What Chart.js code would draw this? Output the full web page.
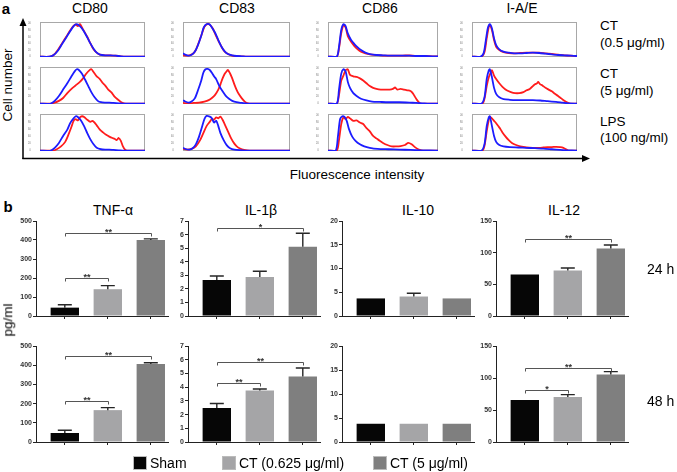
<!DOCTYPE html>
<html><head><meta charset="utf-8">
<script src="https://cdn.jsdelivr.net/npm/chart.js@4.4.1/dist/chart.umd.min.js"></script>
<style>
html,body{margin:0;padding:0;background:#fff}
body{width:677px;height:472px;position:relative;overflow:hidden;font-family:"Liberation Sans",Arial,sans-serif;color:#000}
.t{position:absolute;white-space:nowrap;line-height:1}
.box{position:absolute}
canvas{display:block}
</style></head><body>
<svg style="position:absolute;left:0;top:0" width="677" height="472">
  <line x1="23" y1="159" x2="23" y2="25" stroke="#000" stroke-width="1.5"/>
  <polygon points="23,18 19.5,26 26.5,26" fill="#000"/>
  <line x1="22.3" y1="158.5" x2="583" y2="158.5" stroke="#000" stroke-width="1.5"/>
  <polygon points="590,158.5 582,155 582,162" fill="#000"/>
</svg>
<script>
// ---------------- DATA ----------------
const markers = ['CD80', 'CD83', 'CD86', 'I-A/E'];
const treatments = [['CT', '(0.5 μg/ml)'], ['CT', '(5 μg/ml)'], ['LPS', '(100 ng/ml)']];
const histXTicks = [11, 22, 48, 73, 97];
const histXLabels = ['0', '10²', '10³', '10⁴', '10⁵'];
const histYTicks = [0, 20, 40, 60, 80, 100];

// Histograms: [fluorescence position (% of axis), cell number (% of max)]
const cd80R1Blue = [[0,0],[9,0],[13,5],[17,18],[21,38],[25,58],[29,78],[32,92],[35,98],[38,92],[41,80],[45,58],[48,40],[51,24],[54,12],[57,6],[62,4],[67,4],[72,3],[77,1],[82,0],[100,0]];
const cd80R1Red  = [[0,0],[9,0],[13,5],[17,20],[21,40],[25,60],[29,80],[32,93],[34,97],[36,92],[38,98],[41,82],[45,60],[48,40],[51,22],[54,12],[57,6],[62,4],[67,4],[72,3],[77,1],[82,0],[100,0]];
const cd80R2Blue = [[0,0],[10,0],[14,8],[18,22],[22,40],[26,58],[30,78],[33,92],[35,98],[37,96],[40,85],[43,68],[46,50],[49,32],[52,18],[55,8],[58,4],[62,3],[66,3],[70,2],[75,1],[80,0],[100,0]];
const cd80R2Red  = [[0,0],[10,0],[14,3],[18,8],[22,16],[26,30],[30,42],[34,52],[38,62],[41,72],[44,85],[47,95],[49,98],[51,90],[54,78],[57,70],[60,58],[62,52],[65,40],[68,32],[71,20],[74,12],[77,5],[80,1],[84,0],[100,0]];
const cd80R3Blue = [[0,0],[10,0],[14,8],[18,22],[22,42],[26,60],[29,80],[32,92],[34,98],[36,96],[39,86],[42,70],[45,50],[48,32],[51,18],[54,8],[58,4],[62,3],[66,3],[70,2],[75,1],[80,0],[100,0]];
const cd80R3Red  = [[0,0],[12,0],[16,4],[20,12],[24,25],[27,45],[30,68],[32,85],[34,90],[36,86],[38,95],[40,98],[42,96],[45,88],[48,82],[50,85],[52,80],[54,72],[57,60],[60,52],[63,45],[66,40],[69,36],[71,34],[73,30],[75,36],[77,28],[79,12],[81,3],[83,0],[100,0]];

const cd83R1Blue = [[0,10],[2,6],[5,3],[8,6],[11,15],[14,35],[17,62],[19,85],[21,96],[23,99],[25,97],[27,88],[30,72],[33,50],[36,30],[39,16],[42,8],[46,4],[50,2],[55,1],[60,0],[100,0]];
const cd83R1Red  = [[0,4],[3,3],[6,4],[9,8],[12,20],[15,45],[18,72],[20,90],[22,97],[24,99],[26,93],[28,84],[31,62],[34,42],[37,24],[40,12],[44,5],[48,2],[54,1],[60,0],[100,0]];
const cd83R2Blue = [[0,10],[2,6],[5,3],[8,6],[11,15],[14,38],[17,65],[19,88],[21,98],[23,99],[25,96],[27,88],[29,78],[31,70],[34,50],[37,35],[40,22],[43,14],[46,8],[50,4],[55,2],[60,0],[100,0]];
const cd83R2Red  = [[0,2],[5,1],[10,2],[15,3],[20,6],[24,10],[27,16],[30,25],[33,40],[35,55],[37,72],[39,85],[41,93],[42,96],[44,86],[46,72],[48,55],[50,40],[52,28],[55,15],[58,5],[61,1],[64,0],[100,0]];
const cd83R3Blue = [[0,8],[3,4],[6,3],[9,7],[12,18],[15,40],[18,70],[20,90],[22,99],[25,97],[27,92],[29,80],[31,85],[33,70],[35,50],[38,30],[41,15],[44,7],[48,3],[55,1],[60,0],[100,0]];
const cd83R3Red  = [[0,5],[4,3],[8,5],[12,12],[16,30],[19,50],[22,70],[25,82],[27,90],[29,88],[31,95],[33,92],[35,97],[37,88],[39,75],[42,55],[45,35],[48,20],[51,10],[55,4],[60,1],[65,0],[100,0]];

const cd86R1Blue = [[0,0],[8,0],[10,30],[12,80],[14,98],[16,92],[18,70],[21,50],[24,38],[27,28],[30,20],[34,12],[38,8],[44,5],[50,4],[56,3],[62,3],[68,3],[74,3],[80,2],[88,2],[95,1],[100,1]];
const cd86R1Red  = [[0,0],[8,0],[10,25],[12,70],[14,95],[16,88],[18,62],[21,45],[24,32],[27,22],[30,15],[34,10],[38,7],[44,5],[50,3],[56,3],[62,3],[68,3],[74,4],[80,2],[88,2],[95,1],[100,1]];
const cd86R2Blue = [[0,0],[8,0],[10,40],[12,85],[14,98],[16,92],[18,62],[20,45],[23,30],[26,22],[30,14],[35,9],[40,6],[47,5],[55,4],[65,4],[74,3],[80,2],[86,1],[92,0],[100,0]];
const cd86R2Red  = [[0,0],[8,0],[10,25],[12,65],[14,80],[16,95],[18,98],[20,82],[23,78],[26,76],[29,72],[32,66],[35,58],[38,50],[41,45],[44,42],[48,40],[52,40],[56,40],[59,42],[61,46],[63,40],[66,42],[69,40],[72,38],[75,36],[77,30],[79,20],[81,10],[83,3],[85,0],[100,0]];
const cd86R3Blue = [[0,0],[7,0],[9,40],[11,90],[13,98],[15,96],[17,85],[19,62],[22,40],[25,28],[29,18],[33,12],[38,8],[45,5],[55,4],[65,3],[75,2],[85,1],[100,0]];
const cd86R3Red  = [[0,0],[8,0],[10,30],[12,75],[14,95],[16,90],[18,96],[20,92],[23,85],[26,86],[29,80],[32,76],[35,64],[38,55],[41,42],[44,35],[47,28],[50,22],[54,16],[58,12],[62,12],[66,13],[70,16],[73,22],[76,18],[79,10],[82,4],[85,1],[88,0],[100,0]];

const iaeR1Blue = [[0,0],[8,0],[11,10],[13,45],[15,85],[17,98],[19,85],[21,55],[23,35],[26,22],[30,15],[35,12],[40,10],[46,10],[52,11],[58,12],[64,11],[70,9],[76,7],[82,5],[88,4],[94,3],[100,2]];
const iaeR1Red  = [[0,0],[9,0],[12,15],[14,55],[16,90],[17,95],[19,80],[21,50],[23,30],[26,20],[30,14],[35,11],[40,10],[46,11],[52,12],[58,12],[64,12],[70,10],[76,8],[82,6],[88,4],[94,3],[100,2]];
const iaeR2Blue = [[0,0],[9,0],[12,20],[14,70],[16,95],[17,98],[19,75],[21,45],[23,28],[26,18],[30,13],[36,11],[42,10],[50,10],[58,10],[65,9],[72,7],[80,5],[86,3],[92,1],[100,0]];
const iaeR2Red  = [[0,0],[10,0],[12,15],[14,50],[16,75],[18,90],[19,95],[21,80],[23,70],[26,58],[29,48],[33,38],[37,33],[41,30],[45,30],[49,33],[52,38],[55,42],[58,50],[60,55],[62,58],[63,62],[65,55],[67,52],[70,45],[73,40],[76,35],[79,28],[82,22],[85,15],[88,8],[91,3],[94,0],[100,0]];
const iaeR3Blue = [[0,0],[9,0],[12,20],[14,70],[16,95],[17,98],[19,70],[21,42],[23,25],[26,16],[30,12],[36,10],[44,9],[52,8],[60,7],[68,6],[76,4],[84,2],[90,1],[100,0]];
const iaeR3Red  = [[0,0],[10,0],[12,15],[14,55],[16,88],[17,97],[19,92],[21,85],[23,78],[25,70],[27,62],[29,52],[32,40],[35,30],[38,22],[42,16],[46,12],[52,9],[58,8],[64,8],[68,9],[72,10],[76,10],[80,11],[84,10],[87,8],[90,3],[92,0],[100,0]];

// Bar charts (pg/ml, mean and SEM)
const groups = ['Sham', 'CT (0.625 μg/ml)', 'CT (5 μg/ml)'];
const cytokines = ['TNF-α', 'IL-1β', 'IL-10', 'IL-12'];
const timepoints = ['24 h', '48 h'];
const yMaxes = [500, 7, 20, 150];
const ySteps = [100, 1, 5, 50];

const tnf24 = [44, 141, 400],      tnf24Err = [15, 19, 6];
const il1b24 = [2.65, 2.87, 5.1],  il1b24Err = [0.3, 0.43, 1.0];
const il10_24 = [3.7, 4.1, 3.7],   il10_24Err = [0, 0.7, 0];
const il12_24 = [65.5, 71.8, 106.5], il12_24Err = [0, 4, 5.5];
const tnf48 = [47, 166, 406],      tnf48Err = [14, 13, 7];
const il1b48 = [2.48, 3.75, 4.78], il1b48Err = [0.33, 0.12, 0.62];
const il10_48 = [3.8, 3.8, 3.8],   il10_48Err = [0, 0, 0];
const il12_48 = [65.5, 70.5, 105.5], il12_48Err = [0, 3.5, 4.5];

// significance brackets: [group a, group b, bracket level, label]
const tnf24Sig = [[0, 1, 199, '**'], [0, 2, 437, '**']];
const il1b24Sig = [[0, 2, 6.45, '*']];
const il10_24Sig = [];
const il12_24Sig = [[0, 2, 122, '**']];
const tnf48Sig = [[0, 1, 211, '**'], [0, 2, 446, '**']];
const il1b48Sig = [[0, 1, 4.33, '**'], [0, 2, 5.8, '**']];
const il10_48Sig = [];
const il12_48Sig = [[0, 1, 81, '*'], [0, 2, 116, '**']];

// ---------------- STYLE / LAYOUT ----------------
const FONT = '"Liberation Sans", Arial, sans-serif';
const groupColors = ['#060606', '#a5a5a7', '#7f7f7f'];
const BLUE = '#1c1cff', RED = '#ff1c1c';

function text(str, x, y, opt = {}) {
  const d = document.createElement('div');
  d.className = 't';
  d.textContent = str;
  d.style.left = x + 'px';
  d.style.top = y + 'px';
  d.style.fontSize = (opt.size || 13.5) + 'px';
  if (opt.bold) d.style.fontWeight = 'bold';
  let tf = opt.left ? 'translate(0,-50%)' : 'translate(-50%,-50%)';
  if (opt.rot) tf += ' rotate(' + opt.rot + 'deg)';
  d.style.transform = tf;
  document.body.appendChild(d);
}
function canvasAt(left, top, w, h) {
  const wrap = document.createElement('div');
  wrap.className = 'box';
  wrap.style.left = left + 'px'; wrap.style.top = top + 'px';
  wrap.style.width = w + 'px'; wrap.style.height = h + 'px';
  const c = document.createElement('canvas');
  c.width = w; c.height = h;
  wrap.appendChild(c);
  document.body.appendChild(wrap);
  return c;
}
const pts = a => a.map(p => ({x: p[0], y: p[1]}));

const framePlugin = {
  id: 'frame',
  beforeDatasetsDraw(chart) {
    const {ctx, chartArea: a} = chart;
    ctx.save(); ctx.strokeStyle = '#a8a8a8'; ctx.lineWidth = 1;
    ctx.strokeRect(Math.round(a.left) + 0.5, Math.round(a.top) + 0.5, Math.round(a.right - a.left) - 1, Math.round(a.bottom - a.top) - 1);
    ctx.restore();
  }
};

function hist(areaL, areaT, w, h, blue, red) {
  const padL = 12, padT = 2, padB = 6, padR = 2;
  const c = canvasAt(areaL - padL, areaT - padT, w + padL + padR, h + padT + padB);
  new Chart(c, {
    type: 'line',
    data: { datasets: [
      { data: pts(blue), borderColor: BLUE, borderWidth: 1.8, pointRadius: 0, tension: 0.25 },
      { data: pts(red), borderColor: RED, borderWidth: 1.8, pointRadius: 0, tension: 0.25 }
    ]},
    options: {
      responsive: false, animation: false, events: [],
      layout: { padding: { top: padT, right: padR, left: 0, bottom: 0 } },
      plugins: { legend: { display: false }, tooltip: { enabled: false } },
      scales: {
        x: { type: 'linear', min: 0, max: 100, grid: { display: false }, border: { display: false },
             afterBuildTicks: s => { s.ticks = histXTicks.map(v => ({value: v})); },
             afterFit: s => { s.height = padB; },
             ticks: { font: { size: 3, family: FONT }, color: '#888', padding: 1, maxRotation: 0, autoSkip: false,
                      callback: (v) => histXLabels[histXTicks.indexOf(v)] } },
        y: { min: -1, max: 105, grid: { display: false }, border: { display: false },
             afterBuildTicks: s => { s.ticks = histYTicks.map(v => ({value: v})); },
             afterFit: s => { s.width = padL; },
             ticks: { font: { size: 3, family: FONT }, color: '#888', padding: 1, autoSkip: false } }
      }
    },
    plugins: [framePlugin]
  });
}

const sigPlugin = {
  id: 'sig',
  afterDatasetsDraw(chart, args, opts) {
    const {ctx} = chart; const xs = chart.scales.x, ys = chart.scales.y;
    const vals = opts.values, errs = opts.errors;
    ctx.save();
    ctx.strokeStyle = '#262626'; ctx.lineWidth = 1.4;
    vals.forEach((v, i) => {
      if (!errs[i]) return;
      const x = xs.getPixelForValue(i), y0 = ys.getPixelForValue(v), y1 = ys.getPixelForValue(v + errs[i]);
      ctx.beginPath(); ctx.moveTo(x, y0); ctx.lineTo(x, y1);
      ctx.moveTo(x - 7, y1); ctx.lineTo(x + 7, y1); ctx.stroke();
    });
    ctx.strokeStyle = '#555'; ctx.lineWidth = 1; ctx.fillStyle = '#333';
    ctx.font = 'bold 9px ' + FONT; ctx.textAlign = 'center'; ctx.textBaseline = 'alphabetic';
    opts.brackets.forEach(b => {
      const xa = Math.round(xs.getPixelForValue(b[0])) + 0.5, xb = Math.round(xs.getPixelForValue(b[1])) + 0.5;
      const y = Math.round(ys.getPixelForValue(b[2])) + 0.5;
      ctx.beginPath(); ctx.moveTo(xa, y + 3); ctx.lineTo(xa, y); ctx.lineTo(xb, y); ctx.lineTo(xb, y + 3); ctx.stroke();
      ctx.fillText(b[3], (xa + xb) / 2, y + 1);
    });
    ctx.restore();
  }
};

function bars(areaL, areaT, areaH, k, values, errors, brackets) {
  const padL = 32, padT = 8, padB = 6, padR = 4, W = 132;
  const c = canvasAt(areaL - padL, areaT - padT, W + padL + padR, areaH + padT + padB);
  new Chart(c, {
    type: 'bar',
    data: { datasets: [{
      data: values.map((v, i) => ({x: i, y: v})),
      backgroundColor: groupColors, borderWidth: 0,
      barPercentage: 0.66, categoryPercentage: 1
    }]},
    options: {
      responsive: false, animation: false, events: [],
      layout: { padding: { top: padT, right: padR, left: 0, bottom: 0 } },
      plugins: { legend: { display: false }, tooltip: { enabled: false },
                 sig: { values, errors, brackets } },
      scales: {
        x: { type: 'linear', min: -0.67, max: 2.4, offset: false,
             grid: { display: true, offset: false, drawOnChartArea: false, drawTicks: true, tickLength: 3, color: '#222', lineWidth: 1 },
             border: { display: true, color: '#222', width: 1 },
             afterBuildTicks: s => { s.ticks = [0, 1, 2].map(v => ({value: v})); },
             afterFit: s => { s.height = padB; },
             ticks: { callback: () => '', padding: 0, autoSkip: false, maxRotation: 0 } },
        y: { min: 0, max: yMaxes[k],
             grid: { drawOnChartArea: false, drawTicks: true, tickLength: 3, color: '#222', lineWidth: 1 },
             border: { display: true, color: '#222', width: 1 },
             afterFit: s => { s.width = padL; },
             ticks: { stepSize: ySteps[k], font: { size: 7, family: FONT, weight: 'bold' }, color: '#333', padding: 1 } }
      }
    },
    plugins: [sigPlugin]
  });
}

// ---------------- PANEL a ----------------
text('a', 6, 8, {size: 15, bold: true});
const histCols = [[40, 105], [183, 107], [328, 110], [472, 105]];
const histRows = [[21, 36], [66, 38], [113, 38]];
const histData = [
  [[cd80R1Blue, cd80R1Red], [cd80R2Blue, cd80R2Red], [cd80R3Blue, cd80R3Red]],
  [[cd83R1Blue, cd83R1Red], [cd83R2Blue, cd83R2Red], [cd83R3Blue, cd83R3Red]],
  [[cd86R1Blue, cd86R1Red], [cd86R2Blue, cd86R2Red], [cd86R3Blue, cd86R3Red]],
  [[iaeR1Blue, iaeR1Red], [iaeR2Blue, iaeR2Red], [iaeR3Blue, iaeR3Red]]
];
const markerX = [90, 237, 380, 522];
markers.forEach((m, ci) => {
  text(m, markerX[ci], 8, {size: 14});
  histRows.forEach((r, ri) => {
    hist(histCols[ci][0], r[0], histCols[ci][1], r[1], histData[ci][ri][0], histData[ci][ri][1]);
  });
});
const trY = [[26, 43], [74, 91], [122, 138]];
treatments.forEach((t, i) => {
  text(t[0], 600, trY[i][0], {size: 13.5, left: true});
  text(t[1], 600, trY[i][1], {size: 13.5, left: true});
});
text('Cell number', 8, 85, {size: 13.5, rot: -90});
text('Fluorescence intensity', 357, 175, {size: 13.5});

// ---------------- PANEL b ----------------
text('b', 8, 206, {size: 15, bold: true});
const titleX = [113, 261, 418, 564];
cytokines.forEach((c, i) => text(c, titleX[i], 210, {size: 14}));
const barLeft = [36, 188, 342, 496];
const rowsB = [[221, 95], [346, 96]];
const barSets = [
  [[tnf24, tnf24Err, tnf24Sig], [il1b24, il1b24Err, il1b24Sig], [il10_24, il10_24Err, il10_24Sig], [il12_24, il12_24Err, il12_24Sig]],
  [[tnf48, tnf48Err, tnf48Sig], [il1b48, il1b48Err, il1b48Sig], [il10_48, il10_48Err, il10_48Sig], [il12_48, il12_48Err, il12_48Sig]]
];
barSets.forEach((row, ri) => row.forEach((s, k) => bars(barLeft[k], rowsB[ri][0], rowsB[ri][1], k, s[0], s[1], s[2])));
text(timepoints[0], 647, 269, {size: 14, left: true});
text(timepoints[1], 647, 401, {size: 14, left: true});
text('pg/ml', 8, 320, {size: 13.5, rot: -90});

// legend
const legX = [133, 222, 373];
groups.forEach((g, i) => {
  const sq = document.createElement('div');
  sq.style.cssText = 'position:absolute;left:' + legX[i] + 'px;top:456px;width:12px;height:12px;background:' + groupColors[i] + ';border:0.5px solid #bbb';
  document.body.appendChild(sq);
  text(g, legX[i] + 17, 463, {size: 14, left: true});
});
</script>
</body></html>
